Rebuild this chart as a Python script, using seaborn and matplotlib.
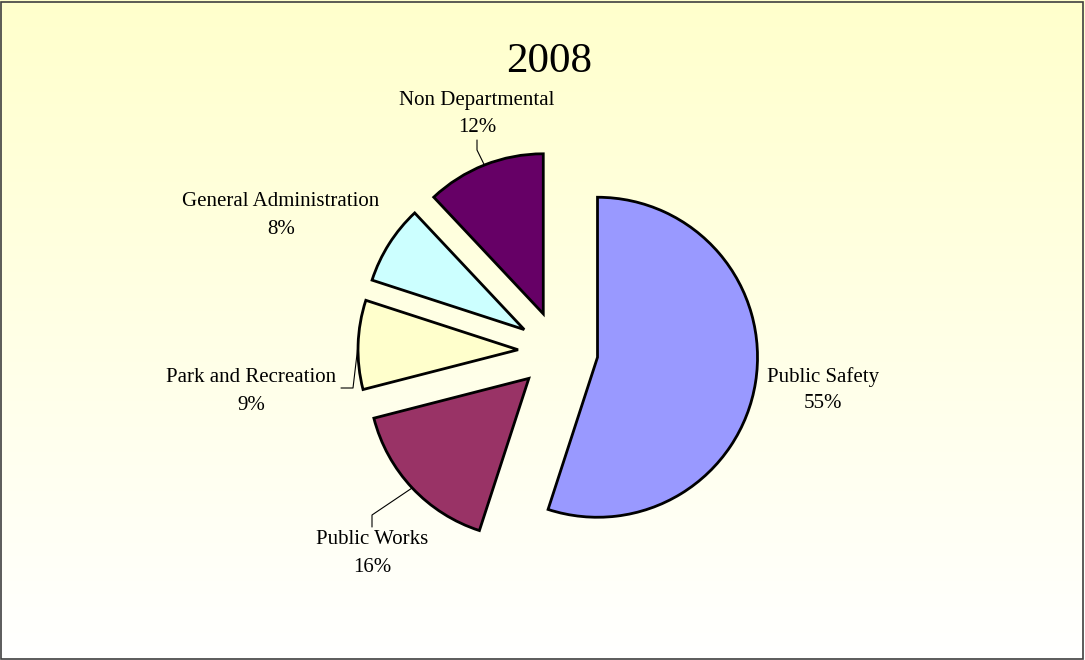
import numpy as np
import matplotlib
matplotlib.use("Agg")
import matplotlib.pyplot as plt
import seaborn as sns
from matplotlib.colors import to_rgb
from matplotlib.patches import Rectangle

categories = ["Public Safety", "Public Works", "Park and Recreation",
              "General Administration", "Non Departmental"]
values = [55, 16, 9, 8, 12]
colors = ["#9999FF", "#993366", "#FFFFCC", "#CCFFFF", "#660066"]
title = "2008"

sns.set_theme(style="white")
plt.rcParams['font.family'] = ['Liberation Serif', 'DejaVu Serif']

W, H = 1085, 660
fig = plt.figure(figsize=(W / 100, H / 100), dpi=100)
ax = fig.add_axes([0, 0, 1, 1])

# background gradient (pale yellow to white)
top = np.array(to_rgb("#FFFFCC"))
bot = np.array([1.0, 1.0, 1.0])
t = np.linspace(0, 1, 256)[:, None]
grad = top * (1 - t) + bot * t
ax.imshow(grad[:, None, :], extent=[0, W, 0, H], aspect='auto', zorder=0)

cx, cy, R = 558, H - 351, 160
explode = [40] * len(values)   # offset in pixels (data units here)
wedges, _ = ax.pie(values, colors=colors, startangle=90, counterclock=False,
                   explode=explode, radius=R, center=(cx, cy), frame=True,
                   wedgeprops=dict(edgecolor='black', linewidth=2, zorder=2))
ax.set_xlim(0, W)
ax.set_ylim(0, H)
ax.set_aspect('auto')
ax.set_axis_off()

total = sum(values)
# label layout (pixel coords, y from top): (x, y of first line, leader elbow, leader end)
layout = {
    "Public Safety": (823, 377, None, None),
    "Public Works": (372, 540, (372, 515), (372, 527)),
    "Park and Recreation": (251, 378, (353, 388), (341, 388)),
    "General Administration": (281, 202, None, None),
    "Non Departmental": (477, 100, (477, 150), (477, 140)),
}
fs = 15
for w, cat, v in zip(wedges, categories, values):
    x, y1, elbow, end = layout[cat]
    ax.text(x, H - y1, cat, ha='center', va='center', fontsize=fs, color='black', zorder=4)
    ax.text(x, H - y1 - 27, f"{v / total * 100:.0f}%", ha='center', va='center',
            fontsize=fs, color='black', zorder=4)
    if elbow is not None:
        mid = np.deg2rad((w.theta1 + w.theta2) / 2)
        px = w.center[0] + w.r * np.cos(mid)
        py = w.center[1] + w.r * np.sin(mid)
        ax.plot([px, elbow[0], end[0]], [py, H - elbow[1], H - end[1]],
                color='black', linewidth=0.8, zorder=3)

ax.text(549, H - 62, title, ha='center', va='center', fontsize=31, color='black', zorder=4)

fig.patches.append(Rectangle((0.001, 0.0015), 0.997, 0.996, transform=fig.transFigure,
                             fill=False, edgecolor='#404040', linewidth=1.2))

fig.savefig("out.png", dpi=100)
